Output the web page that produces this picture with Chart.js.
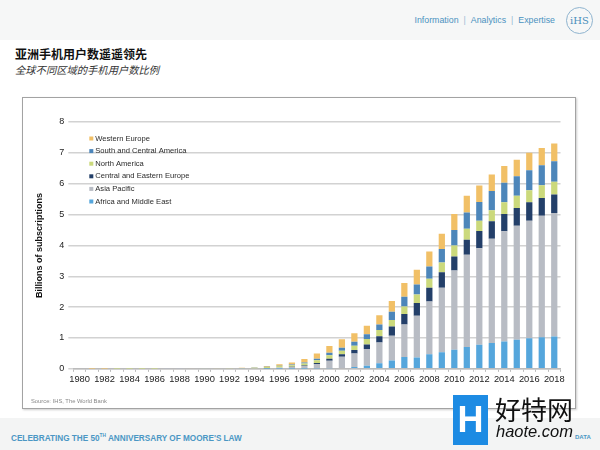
<!DOCTYPE html>
<html>
<head>
<meta charset="utf-8">
<script src="https://cdn.jsdelivr.net/npm/chart.js@4.4.1/dist/chart.umd.min.js"></script>
<style>
  body { margin: 0; width: 600px; height: 450px; background: #fff; position: relative; overflow: hidden;
         font-family: "Liberation Sans", Arial, sans-serif; }
  #top { position: absolute; left: 0; top: 0; width: 600px; height: 40px; background: #f6f7f7; }
  #nav { position: absolute; right: 45px; top: 15px; font-size: 8.8px; color: #4a92bf; }
  #nav span { color: #9bbdd4; margin: 0 5px; }
  #logo { position: absolute; left: 566px; top: 7px; width: 25px; height: 25px; border: 1px solid #8fb4cf;
          border-radius: 50%; font-family: "DejaVu Serif", serif; font-size: 10px; color: #4a8fbb;
          text-align: center; line-height: 25px; }
  #title { position: absolute; left: 15px; top: 45px; font-family: "Noto Sans CJK SC", sans-serif;
           font-weight: bold; font-size: 12px; color: #111; }
  #subtitle { position: absolute; left: 15px; top: 62px; font-family: "Noto Sans CJK SC", sans-serif;
              font-style: italic; font-size: 10.3px; color: #333; }
  #frame { position: absolute; left: 22px; top: 97px; width: 552px; height: 310px;
           border: 1.5px solid #a3a3a3; box-shadow: 1px 1px 2px #ccc; }
  #wrap { position: absolute; left: 24px; top: 99px; width: 550px; height: 309px; }
  #source { position: absolute; left: 31px; top: 398px; font-size: 5.8px; color: #888; }
  #bottom { position: absolute; left: 0; top: 418px; width: 600px; height: 32px; background: #f3f4f4; }
  #moore { position: absolute; left: 11px; top: 433px; font-size: 8.2px; font-weight: bold; color: #4b97c4; }
  #moore sup { font-size: 4.8px; }
  #data { position: absolute; left: 575px; top: 434px; font-size: 6px; font-weight: bold; color: #4b97c4; }
  #wm { position: absolute; left: 452px; top: 395px; width: 148px; height: 52px; }
  #wm .h { position: absolute; left: 1px; top: 0; width: 35px; height: 50px; background: #1d8be3;
           color: #fff; font-size: 36px; font-weight: bold; text-align: center; line-height: 50px; }
  #wm .cn { position: absolute; left: 43px; top: -5px; font-family: "Noto Sans CJK SC", sans-serif;
            font-size: 26px; color: #111; }
  #wm .en { position: absolute; left: 44px; top: 27px; font-style: italic; font-size: 16.5px; color: #111; }
</style>
</head>
<body>
<div id="top"></div>
<div id="nav">Information<span>|</span>Analytics<span>|</span>Expertise</div>
<div id="logo">iHS</div>
<div id="title">亚洲手机用户数遥遥领先</div>
<div id="subtitle">全球不同区域的手机用户数比例</div>
<div id="frame"></div>
<div id="wrap"><canvas id="chart"></canvas></div>
<div id="source">Source: IHS, The World Bank</div>
<div id="bottom"></div>
<div id="moore">CELEBRATING THE 50<sup>TH</sup> ANNIVERSARY OF MOORE'S LAW</div>
<div id="data">DATA</div>
<div id="wm"><div class="h">H</div><div class="cn">好特网</div><div class="en">haote.com</div></div>
<script>
const years = ['1980','1981','1982','1983','1984','1985','1986','1987','1988','1989',
               '1990','1991','1992','1993','1994','1995','1996','1997','1998','1999',
               '2000','2001','2002','2003','2004','2005','2006','2007','2008','2009',
               '2010','2011','2012','2013','2014','2015','2016','2017','2018'];

// billions of subscriptions, stacked bottom -> top
const africaMiddleEast = [0,0,0,0,0,0,0,0,0,0,
  0,0,0,0,0,0.001,0.002,0.004,0.006,0.01,
  0.02,0.03,0.06,0.1,0.18,0.27,0.38,0.37,0.47,0.54,
  0.62,0.71,0.78,0.84,0.89,0.94,0.99,1.02,1.05];
const asiaPacific = [0,0,0,0,0,0,0,0.0003,0.001,0.001,
  0.002,0.003,0.005,0.007,0.012,0.022,0.04,0.055,0.09,0.15,
  0.24,0.36,0.44,0.54,0.67,0.8,1.06,1.35,1.71,2.09,
  2.57,2.99,3.13,3.38,3.57,3.7,3.81,3.94,4.0];
const centralEasternEurope = [0,0,0,0,0,0,0,0,0,0,
  0,0,0,0,0.001,0.002,0.003,0.005,0.01,0.03,
  0.07,0.08,0.11,0.15,0.21,0.3,0.34,0.41,0.45,0.5,
  0.45,0.48,0.56,0.56,0.56,0.57,0.6,0.58,0.6];
const northAmerica = [0,0,0,0.0001,0.0003,0.0007,0.001,0.001,0.002,0.004,
  0.006,0.008,0.011,0.016,0.024,0.035,0.045,0.055,0.07,0.09,
  0.11,0.12,0.14,0.18,0.2,0.21,0.24,0.28,0.29,0.32,
  0.36,0.36,0.33,0.36,0.38,0.4,0.39,0.41,0.41];
const southCentralAmerica = [0,0,0,0,0,0,0,0,0,0,
  0,0,0.001,0.001,0.003,0.005,0.01,0.02,0.03,0.05,
  0.08,0.09,0.13,0.15,0.18,0.27,0.32,0.32,0.4,0.43,
  0.5,0.53,0.61,0.62,0.63,0.63,0.65,0.65,0.67];
const westernEurope = [0,0.0001,0.0001,0.0002,0.0003,0.0005,0.001,0.001,0.001,0.002,
  0.003,0.005,0.007,0.01,0.015,0.025,0.045,0.07,0.11,0.17,
  0.22,0.28,0.27,0.28,0.3,0.35,0.44,0.48,0.48,0.5,
  0.52,0.54,0.53,0.54,0.54,0.54,0.56,0.56,0.57];

const yTicks = [0,1,2,3,4,5,6,7,8];

const series = [
  { label: 'Africa and Middle East', data: africaMiddleEast, color: '#55a6dc' },
  { label: 'Asia Pacific', data: asiaPacific, color: '#b8bcc4' },
  { label: 'Central and Eastern Europe', data: centralEasternEurope, color: '#233f69' },
  { label: 'North America', data: northAmerica, color: '#cbd97c' },
  { label: 'South and Central America', data: southCentralAmerica, color: '#4d86ba' },
  { label: 'Western Europe', data: westernEurope, color: '#f1c067' }
];

// legend drawn inside the plot, top-left, reversed order
const innerLegend = {
  id: 'innerLegend',
  afterDraw(chart) {
    const ctx = chart.ctx;
    const area = chart.chartArea;
    const ds = chart.data.datasets.slice().reverse();
    ctx.save();
    ctx.font = '7.6px "Liberation Sans", Arial, sans-serif';
    ctx.textBaseline = 'middle';
    ds.forEach((d, i) => {
      const x = area.left + 16;
      const y = area.top + 16.5 + i * 12.6;
      ctx.fillStyle = d.backgroundColor;
      ctx.fillRect(x, y - 2, 4, 4);
      ctx.fillStyle = '#2a2a2a';
      ctx.fillText(d.label, x + 6, y);
    });
    ctx.restore();
  }
};

new Chart(document.getElementById('chart'), {
  type: 'bar',
  data: {
    labels: years,
    datasets: series.map(s => ({
      label: s.label,
      data: s.data,
      backgroundColor: s.color,
      barPercentage: 0.5,
      categoryPercentage: 1
    }))
  },
  options: {
    responsive: true,
    maintainAspectRatio: false,
    animation: false,
    layout: { padding: { left: 10.5, right: 13.5, top: 23, bottom: 21 } },
    plugins: { legend: { display: false }, tooltip: { enabled: false } },
    scales: {
      x: {
        stacked: true,
        grid: { drawOnChartArea: false, drawTicks: true, tickLength: 3, color: '#bbb' },
        border: { color: '#bbb', width: 1.5 },
        ticks: {
          autoSkip: false, maxRotation: 0, padding: 2,
          color: '#222', font: { size: 9.3, family: '"Liberation Sans", Arial, sans-serif' },
          callback: (v, i) => (i % 2 === 0 ? years[i] : '')
        }
      },
      y: {
        stacked: true,
        min: yTicks[0], max: yTicks[yTicks.length - 1],
        afterBuildTicks: axis => { axis.ticks = yTicks.map(v => ({ value: v })); },
        grid: { color: '#d2d2d2', lineWidth: 1.5, tickLength: 5, tickColor: '#d2d2d2' },
        border: { display: false },
        ticks: { padding: 4, color: '#222', font: { size: 9, family: '"Liberation Sans", Arial, sans-serif' } },
        title: {
          display: true, text: 'Billions of subscriptions', color: '#111',
          font: { size: 9, weight: 'bold', family: '"Liberation Sans", Arial, sans-serif' },
          padding: { top: 0, bottom: 10 }
        }
      }
    }
  },
  plugins: [innerLegend]
});
</script>
</body>
</html>
